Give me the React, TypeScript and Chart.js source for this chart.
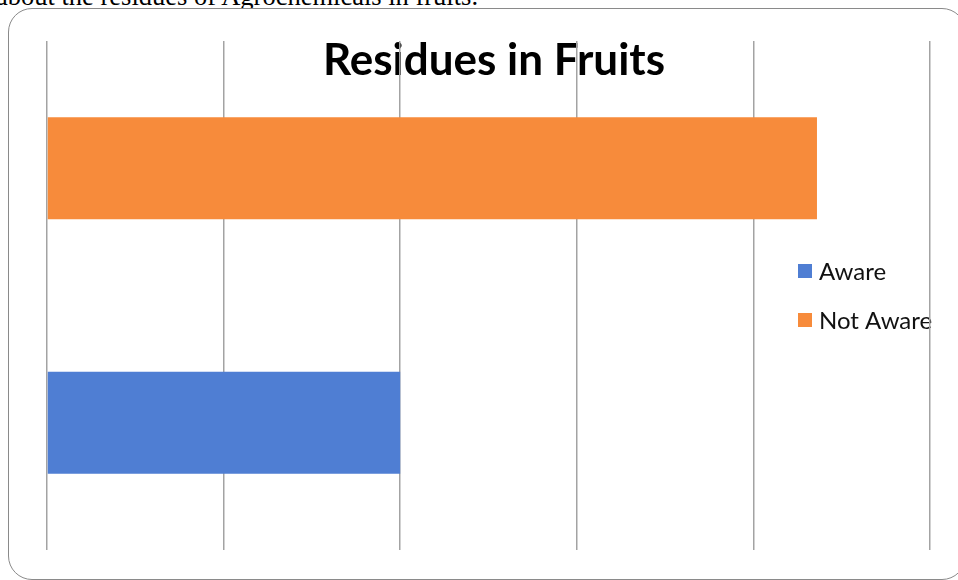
import React, { useEffect, useRef } from "react";
import { Chart, registerables } from "chart.js";

Chart.register(...registerables);

// ---- data ----
const categories = ["Residues in Fruits"];
const seriesNames = ["Aware", "Not Aware"];
const awareValues = [20];
const notAwareValues = [43.6];
const seriesColors = ["#4f7ed3", "#f78b3b"];
const axisMin = 0;
const axisMax = 50;
const axisStep = 10;
const chartTitle = "Residues in Fruits";
const captionText = "about the residues of Agrochemicals in fruits.";

const backdropPlugin = {
  id: "backdrop",
  beforeDraw(chart: any) {
    const ctx = chart.ctx;
    ctx.save();
    // title (drawn beneath gridlines)
    ctx.fillStyle = "#000";
    ctx.font = "bold 44px Lato";
    ctx.textAlign = "center";
    ctx.textBaseline = "alphabetic";
    ctx.fillText(chartTitle, 494, 75);
    // legend
    ctx.font = "24px Lato";
    ctx.textAlign = "left";
    ctx.textBaseline = "middle";
    seriesNames.forEach((name, i) => {
      ctx.fillStyle = seriesColors[i];
      ctx.fillRect(798, 264 + i * 49, 14, 14);
      ctx.fillStyle = "#111";
      ctx.fillText(name, 819, 272 + i * 49);
    });
    ctx.restore();
  },
};

export default function App() {
  const canvasRef = useRef<HTMLCanvasElement | null>(null);

  useEffect(() => {
    if (!canvasRef.current) return;
    const chart = new Chart(canvasRef.current, {
      type: "bar",
      data: {
        labels: categories,
        datasets: [
          {
            label: seriesNames[1],
            data: notAwareValues,
            backgroundColor: seriesColors[1],
            borderWidth: 0,
          },
          {
            label: seriesNames[0],
            data: awareValues,
            backgroundColor: seriesColors[0],
            borderWidth: 0,
          },
        ],
      },
      options: {
        indexAxis: "y",
        responsive: false,
        animation: false,
        layout: { padding: { left: 47, right: 28, top: 41, bottom: 30 } },
        datasets: {
          bar: { categoryPercentage: 1.0, barPercentage: 0.4 },
        },
        plugins: {
          legend: { display: false },
          title: { display: false },
          tooltip: { enabled: false },
        },
        scales: {
          x: {
            min: axisMin,
            max: axisMax,
            ticks: { stepSize: axisStep, display: false },
            grid: { color: "#a3a3a3", lineWidth: 1.5, drawTicks: false },
            border: { display: false },
          },
          y: {
            display: false,
          },
        },
      },
      plugins: [backdropPlugin],
    });
    return () => chart.destroy();
  }, []);

  return (
    <div
      style={{
        position: "fixed",
        left: 0,
        top: 0,
        width: 958,
        height: 580,
        overflow: "hidden",
        background: "#fff",
      }}
    >
      <div
        style={{
          position: "absolute",
          left: -4,
          top: -17,
          fontFamily: "'Liberation Serif', serif",
          fontSize: 26.5,
          lineHeight: "26px",
          whiteSpace: "nowrap",
          color: "#000",
        }}
      >
        {captionText}
      </div>
      <div
        style={{
          position: "absolute",
          left: 8,
          top: 8,
          width: 958,
          height: 572,
          boxSizing: "border-box",
          border: "1.5px solid #8a8a8a",
          borderRadius: 24,
          background: "#fff",
        }}
      />
      <canvas
        ref={canvasRef}
        width={958}
        height={580}
        style={{ position: "absolute", left: 0, top: 0, display: "block" }}
      />
    </div>
  );
}
